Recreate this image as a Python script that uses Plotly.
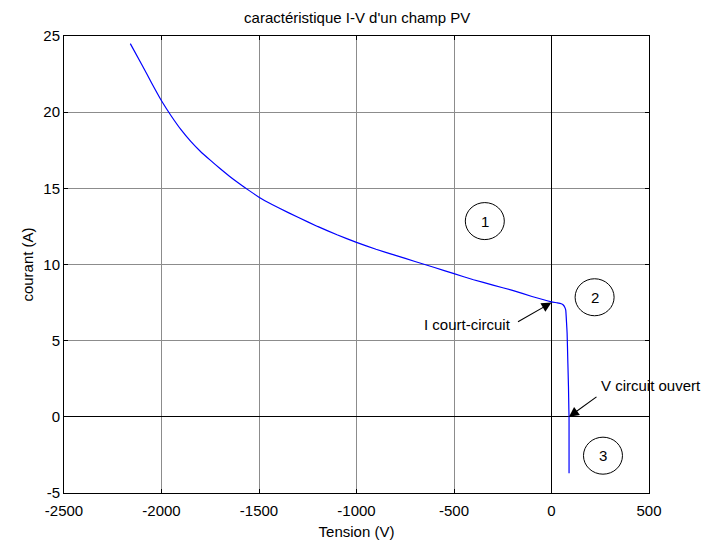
import plotly.graph_objects as go

# Data
tension = [-2160, -2100, -2050, -2000, -1950, -1900, -1850, -1800, -1750, -1700,
           -1650, -1600, -1550, -1500, -1450, -1400, -1300, -1200, -1100, -1000,
           -900, -800, -700, -600, -500, -400, -300, -200, -100, 0,
           30, 50, 59, 68, 73, 77, 80, 84, 87, 89, 90, 90]
courant = [24.5, 23.1, 21.9, 20.75, 19.75, 18.85, 18.08, 17.42, 16.85, 16.3,
           15.78, 15.3, 14.85, 14.42, 14.05, 13.72, 13.1, 12.5, 11.95, 11.45,
           11.0, 10.6, 10.2, 9.8, 9.4, 9.0, 8.65, 8.3, 7.9, 7.55,
           7.48, 7.42, 7.36, 7.2, 7.0, 6.2, 5.5, 3.5, 2.0, 0.5, 0.0, -3.7]

x_ticks = [-2500, -2000, -1500, -1000, -500, 0, 500]
y_ticks = [-5, 0, 5, 10, 15, 20, 25]

zone_labels = ["1", "2", "3"]
zone_x = [-342, 221, 264]
zone_y = [12.85, 7.85, -2.55]

isc_point = (0, 7.5)
voc_point = (89.7, 0)

FONT = "Liberation Sans, Arial, sans-serif"
FS = 15

fig = go.Figure()
fig.add_trace(go.Scatter(x=tension, y=courant, mode="lines",
                         line=dict(color="#0000ff", width=1.2, shape="spline", smoothing=0.4),
                         showlegend=False, hoverinfo="skip"))

for lab, zx, zy in zip(zone_labels, zone_x, zone_y):
    fig.add_shape(type="circle", xref="x", yref="y",
                  xsizemode="pixel", ysizemode="pixel",
                  xanchor=zx, yanchor=zy, x0=-19.5, x1=19.5, y0=-18.5, y1=18.5,
                  line=dict(color="black", width=1))
    fig.add_annotation(x=zx, y=zy, text=lab, showarrow=False,
                       font=dict(family=FONT, size=FS, color="black"))

# arrows
fig.add_annotation(x=isc_point[0], y=isc_point[1], ax=-35, ay=20, text="",
                   showarrow=True, arrowhead=2, arrowsize=1.8, arrowwidth=1.1,
                   arrowcolor="black")
fig.add_annotation(x=-199, y=6.05, text="I court-circuit", showarrow=False,
                   xanchor="right", font=dict(family=FONT, size=FS, color="black"))
fig.add_annotation(x=voc_point[0], y=voc_point[1], ax=29, ay=-21, text="",
                   showarrow=True, arrowhead=2, arrowsize=1.8, arrowwidth=1.1,
                   arrowcolor="black")
fig.add_annotation(x=245, y=2.05, text="V circuit ouvert", showarrow=False,
                   xanchor="left", font=dict(family=FONT, size=FS, color="black"))

axis_common = dict(showline=True, linecolor="black", linewidth=1, mirror="ticks",
                   ticks="inside", ticklen=4, tickcolor="black",
                   showgrid=True, gridcolor="#8c8c8c", gridwidth=1,
                   zeroline=True, zerolinecolor="black", zerolinewidth=1.2,
                   automargin=False,
                   tickfont=dict(family=FONT, size=FS, color="black"))

fig.update_xaxes(range=[-2500, 500], tickvals=x_ticks,
                 ticktext=[str(v) for v in x_ticks], ticklabelstandoff=4,
                 title=dict(text="Tension (V)", font=dict(family=FONT, size=FS, color="black"),
                            standoff=8),
                 **axis_common)
fig.update_yaxes(range=[-5, 25], tickvals=y_ticks,
                 ticktext=[str(v) for v in y_ticks],
                 title=dict(text="courant (A)", font=dict(family=FONT, size=FS, color="black"),
                            standoff=6),
                 **axis_common)

fig.update_layout(
    width=718, height=545,
    margin=dict(l=64, r=69, t=36, b=52),
    paper_bgcolor="white", plot_bgcolor="white",
    title=dict(text="caractéristique I-V d'un champ PV", x=0.4975, xanchor="center",
               y=1 - 18 / 545, yanchor="middle",
               font=dict(family=FONT, size=FS, color="black")),
    showlegend=False,
)

fig.write_html("out.html")
